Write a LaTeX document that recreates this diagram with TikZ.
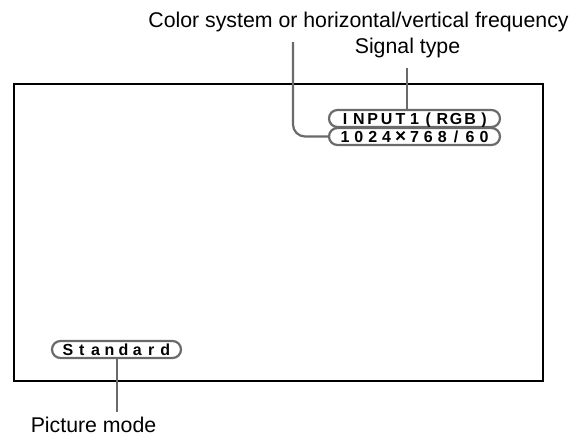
\documentclass[tikz,border=0pt]{standalone}
\usepackage{fontspec}
\setmainfont{Liberation Sans}
\makeatletter
\newcommand\spreadtext[2]{\@tfor\next:=#2\do{\makebox[#1]{\next}}}
\makeatother
\newcommand\bigtimes{{\fontsize{19}{19}\selectfont\raisebox{-0.5pt}{×}}}
\definecolor{leadgray}{HTML}{6A6A6A}
\tikzset{
  label/.style={font=\fontsize{21.3}{25}\selectfont, inner sep=0pt, anchor=base},
  pill/.style={draw=leadgray, line width=2.2pt, fill=white, rounded corners=8.5pt,
    minimum height=17pt, inner sep=0pt, text height=11.5pt, text depth=0pt,
    font=\bfseries\fontsize{16}{16}\selectfont},
  leader/.style={draw=leadgray, line width=2.2pt},
  frame/.style={draw=black, line width=1.3pt}
}
\begin{document}
\begin{tikzpicture}[x=1pt,y=-1pt]
\useasboundingbox (0,0) rectangle (581,442);
\draw[frame] (14,84) rectangle (543,381);
\node[label] (col) at (358.5,27) {Color system or horizontal/vertical frequency};
\node[label] (sig) at (407.5,53) {Signal type};
\node[label] (pm) at (93.5,432) {Picture mode};
\node[pill, minimum width=171pt] (p1) at (414.5,118.5) {\spreadtext{13.9pt}{INPUT1(RGB)}};
\node[pill, minimum width=171pt] (p2) at (414.5,136.5) {\spreadtext{13.9pt}{1024\bigtimes768/60}};
\node[pill, minimum width=129pt] (std) at (116.5,349.5) {\spreadtext{13.9pt}{Standard}};
\coordinate (sigtop) at (407,68);
\coordinate (coltop) at (293,42);
\coordinate (pmtop) at (117,412);
\draw[leader] (sigtop) -- (sigtop |- p1.north);
\draw[leader, rounded corners=12pt] (coltop) |- (p2.west);
\draw[leader] (std.south -| pmtop) -- (pmtop);
\end{tikzpicture}
\end{document}
